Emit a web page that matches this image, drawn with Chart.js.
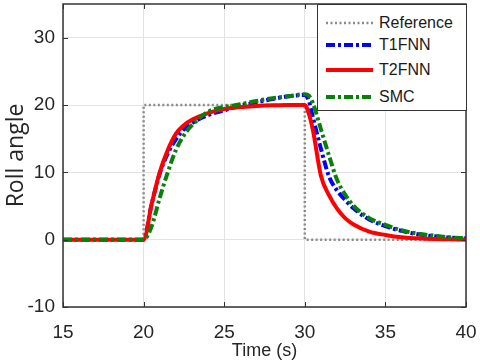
<!DOCTYPE html>
<html>
<head>
<meta charset="utf-8">
<script src="https://cdn.jsdelivr.net/npm/chart.js@4.4.1/dist/chart.umd.min.js"></script>
<style>
  body { margin: 0; background: #fff; }
  #wrap { position: relative; width: 480px; height: 360px; }
  #legenda {
    position: absolute; left: 317px; top: 4px; width: 148px; height: 105px;
    border: 1px solid #333; background: #fff;
    font-family: "Liberation Sans", Arial, sans-serif; font-size: 16px; color: #1a1a1a;
  }
  #legenda .row { position: absolute; left: 8px; height: 20px; display: flex; align-items: center; }
  #legenda svg { margin-right: 6px; }
</style>
</head>
<body>
<div id="wrap">
  <canvas id="grafik" width="480" height="360"></canvas>
  <div id="legenda"></div>
</div>
<script>
// reference step
const refTime = [15, 20, 20, 30, 30, 40];
const refValue = [0, 0, 20, 20, 0, 0];

// time samples of the controller responses
const waktu = [15, 20, 20.5, 21, 21.5, 22, 22.5, 23, 24, 25, 26, 27, 28, 29, 30, 30.25, 30.5, 31, 31.5, 32, 32.5, 33, 34, 35, 36, 37, 38, 39, 40];
const t1fnn = [0, 0, 5.3, 9.8, 12.8, 14.9, 16.4, 17.3, 18.5, 19.2, 19.9, 20.4, 20.9, 21.3, 21.5, 20.6, 18.2, 13.5, 9.4, 7.3, 5.9, 4.7, 3.0, 2.0, 1.3, 0.8, 0.5, 0.3, 0.2];
const t2fnn = [0, 0, 5.3, 10.0, 13.3, 15.7, 17.0, 17.8, 18.8, 19.4, 19.7, 19.85, 19.95, 20, 20, 18.7, 16.3, 9.5, 6.6, 4.6, 3.2, 2.3, 1.2, 0.7, 0.35, 0.2, 0.1, 0.05, 0];
const smc = [0, 0, 2.0, 6.2, 10.0, 13.3, 15.5, 17.0, 19.0, 19.7, 20.1, 20.6, 21.0, 21.3, 21.6, 21.4, 20.3, 16.4, 12.5, 8.9, 6.7, 5.1, 3.2, 2.2, 1.4, 0.9, 0.6, 0.35, 0.2];

const xTicks = [15, 20, 25, 30, 35, 40];
const yTicks = [-10, 0, 10, 20, 30];

function pasang(xs, ys) {
  return xs.map((x, i) => ({ x: x, y: ys[i] }));
}

const seri = [
  { label: 'Reference', data: pasang(refTime, refValue), borderColor: '#8a8a8a', borderWidth: 2.5, borderDash: [2, 2.5], order: 3, tension: 0 },
  { label: 'T1FNN', data: pasang(waktu, t1fnn), borderColor: '#0000ff', borderWidth: 4, borderDash: [9, 3, 3, 3], order: 2, cubicInterpolationMode: 'monotone' },
  { label: 'T2FNN', data: pasang(waktu, t2fnn), borderColor: '#ff0000', borderWidth: 4, order: 1, cubicInterpolationMode: 'monotone' },
  { label: 'SMC', data: pasang(waktu, smc), borderColor: '#0a800a', borderWidth: 4, borderDash: [9, 3, 3, 3], order: 0, cubicInterpolationMode: 'monotone' }
];
seri.forEach(s => { s.pointRadius = 0; s.fill = false; });

// axes box with inward tick marks
const kotak = {
  id: 'kotak',
  afterDraw(chart) {
    const a = chart.chartArea;
    const c = chart.ctx;
    c.save();
    c.strokeStyle = '#333';
    c.lineWidth = 1.5;
    c.strokeRect(a.left, a.top, a.right - a.left, a.bottom - a.top);
    c.lineWidth = 1;
    const sx = chart.scales.x, sy = chart.scales.y;
    xTicks.forEach(v => {
      const px = Math.round(sx.getPixelForValue(v)) + 0.5;
      c.beginPath();
      c.moveTo(px, a.bottom); c.lineTo(px, a.bottom - 5);
      c.moveTo(px, a.top); c.lineTo(px, a.top + 5);
      c.stroke();
    });
    yTicks.forEach(v => {
      const py = Math.round(sy.getPixelForValue(v)) + 0.5;
      c.beginPath();
      c.moveTo(a.left, py); c.lineTo(a.left + 5, py);
      c.moveTo(a.right, py); c.lineTo(a.right - 5, py);
      c.stroke();
    });
    c.restore();
  }
};

const ctx = document.getElementById('grafik').getContext('2d');
const chart = new Chart(ctx, {
  type: 'line',
  data: { datasets: seri },
  options: {
    responsive: false,
    animation: false,
    layout: { padding: { top: 4, right: 14, left: 0, bottom: 0 } },
    plugins: { legend: { display: false }, tooltip: { enabled: false } },
    scales: {
      x: {
        type: 'linear', min: 15, max: 40,
        afterBuildTicks: s => { s.ticks = xTicks.map(v => ({ value: v })); },
        afterFit: s => { s.height = 53; s.paddingLeft = 0; s.paddingRight = 0; },
        grid: { color: '#e3e3e3', drawTicks: false },
        border: { display: false },
        ticks: { padding: 14, color: '#262626', font: { family: '"Liberation Sans", Arial', size: 19 } },
        title: { display: true, text: 'Time (s)', color: '#262626', padding: 0, font: { family: '"Liberation Sans", Arial', size: 18, lineHeight: 1 } }
      },
      y: {
        min: -10, max: 35,
        afterBuildTicks: s => { s.ticks = yTicks.map(v => ({ value: v })); },
        afterFit: s => { s.width = 63; s.paddingTop = 0; s.paddingBottom = 0; },
        grid: { color: '#e3e3e3', drawTicks: false },
        border: { display: false },
        ticks: { padding: 8, color: '#262626', font: { family: '"Liberation Sans", Arial', size: 19 } },
        title: { display: true, text: 'Roll angle', color: '#262626', padding: { top: 5, bottom: 0 }, font: { family: '"Open Sans", sans-serif', size: 23, lineHeight: 1 } }
      }
    }
  },
  plugins: [kotak]
});

// legend box
const legenda = document.getElementById('legenda');
const barisY = [8, 30, 55, 82];
seri.forEach((s, i) => {
  const dash = s.borderDash ? s.borderDash.join(',') : 'none';
  const w = s.borderWidth;
  legenda.innerHTML += `
    <div class="row" style="top:${barisY[i]}px">
      <svg width="47" height="10"><line x1="0" y1="5" x2="47" y2="5" stroke="${s.borderColor}" stroke-width="${w}" stroke-dasharray="${dash}"/></svg>
      <span>${s.label}</span>
    </div>`;
});
</script>
</body>
</html>
